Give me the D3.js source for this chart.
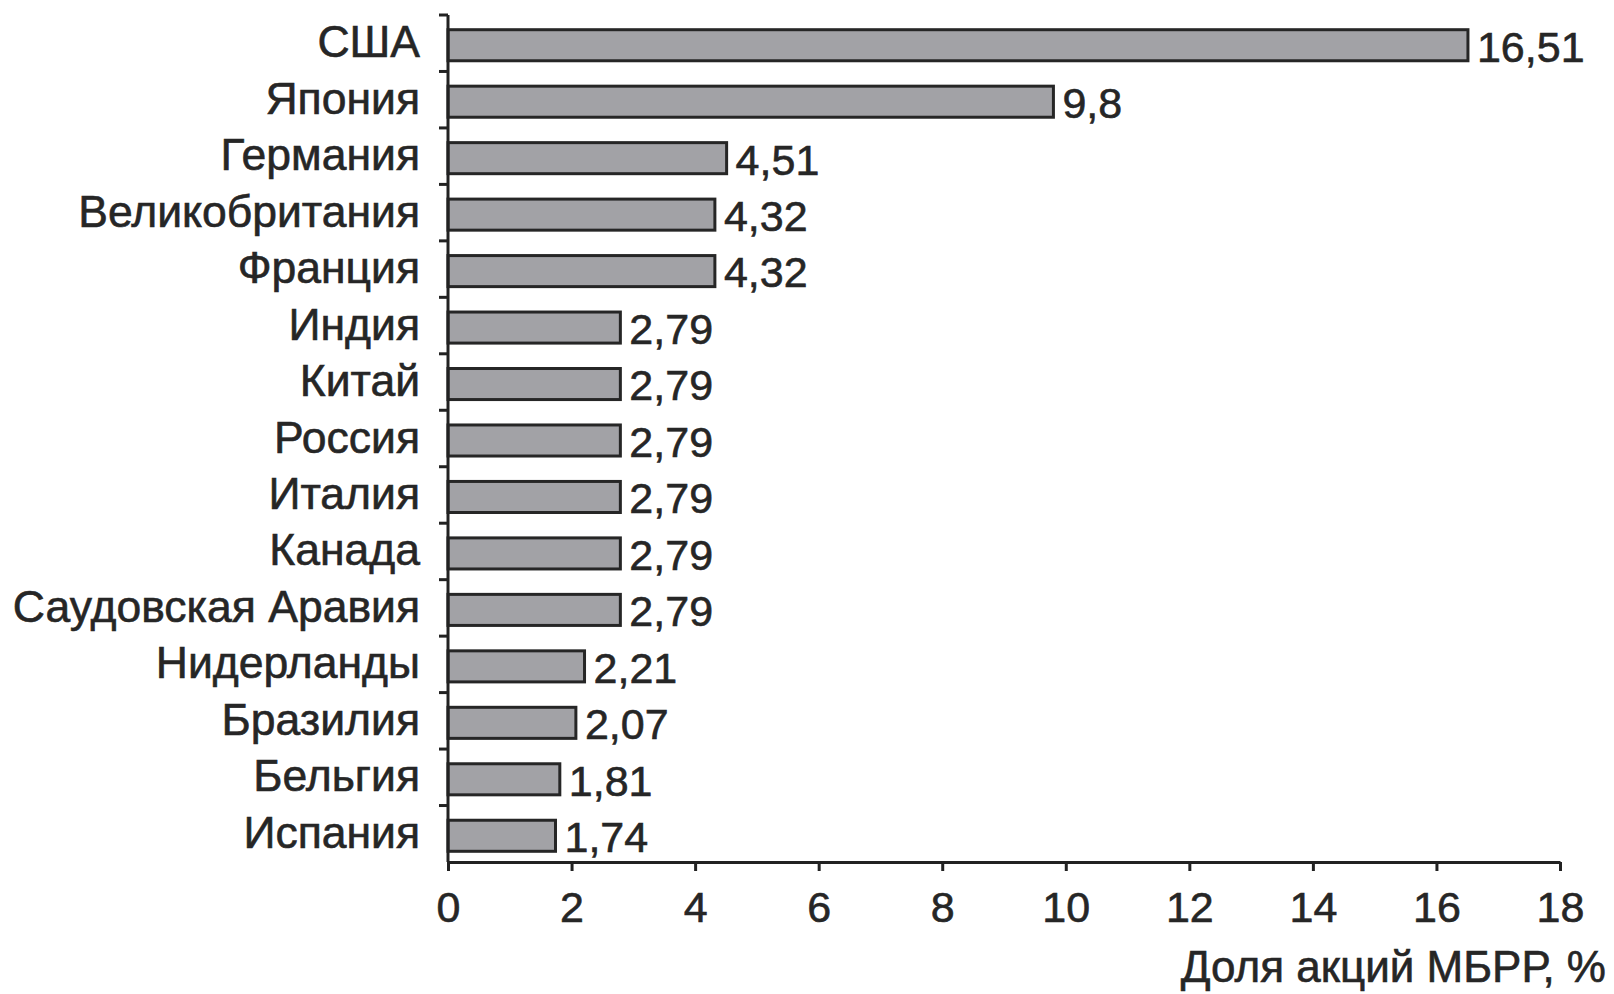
<!DOCTYPE html>
<html><head><meta charset="utf-8">
<script src="https://cdn.jsdelivr.net/npm/d3@7"></script>
<style>
html,body{margin:0;padding:0;background:#fff;}
text{font-family:"Liberation Sans",Arial,sans-serif;fill:#262626;stroke:#262626;stroke-width:0.6px;}
</style></head>
<body>
<svg id="chart" width="1614" height="994"></svg>
<script>
const countries = ["США","Япония","Германия","Великобритания","Франция","Индия","Китай","Россия","Италия","Канада","Саудовская Аравия","Нидерланды","Бразилия","Бельгия","Испания"];
const shares = [16.51,9.8,4.51,4.32,4.32,2.79,2.79,2.79,2.79,2.79,2.79,2.21,2.07,1.81,1.74];
const valueLabels = ["16,51","9,8","4,51","4,32","4,32","2,79","2,79","2,79","2,79","2,79","2,79","2,21","2,07","1,81","1,74"];
const xTicks = [0,2,4,6,8,10,12,14,16,18];
const axisTitle = "Доля акций МБРР, %";

const svg = d3.select("#chart");
const x = d3.scaleLinear().domain([0,18]).range([448,1560]);
const y = d3.scaleBand().domain(countries).range([15,862]).paddingInner(0.45).paddingOuter(0.225);

// bars
svg.append("g").selectAll("rect").data(countries).join("rect")
  .attr("x", x(0))
  .attr("y", d=>y(d)+2)
  .attr("width", (d,i)=>x(shares[i])-x(0))
  .attr("height", y.bandwidth())
  .attr("fill","#a2a2a6")
  .attr("stroke","#262626")
  .attr("stroke-width",3);

// value labels
svg.append("g").selectAll("text").data(countries).join("text")
  .attr("x",(d,i)=>x(shares[i])+9)
  .attr("y",d=>y(d)+2+y.bandwidth()/2)
  .attr("dy","0.38em")
  .attr("font-size",43)
  .text((d,i)=>valueLabels[i]);

// y axis
const yAxis = svg.append("g");
yAxis.append("line").attr("x1",x(0)).attr("x2",x(0)).attr("y1",15).attr("y2",862)
  .attr("stroke","#222").attr("stroke-width",3);
const bounds = countries.map(d=>y(d)-y.step()*y.paddingInner()/2);
yAxis.selectAll("line.tk").data(bounds).join("line").attr("class","tk")
  .attr("x1",x(0)-9).attr("x2",x(0)).attr("y1",d=>d).attr("y2",d=>d)
  .attr("stroke","#222").attr("stroke-width",3);
yAxis.selectAll("text").data(countries).join("text")
  .attr("x",420).attr("y",d=>y(d)+y.bandwidth()/2-2)
  .attr("dy","0.36em").attr("text-anchor","end")
  .attr("font-size",44.5)
  .text(d=>d);

// x axis
const xAxis = svg.append("g").attr("transform","translate(0,862)")
  .call(d3.axisBottom(x).tickValues(xTicks).tickSize(9).tickPadding(20).tickSizeOuter(0));
xAxis.select(".domain").attr("stroke","#222").attr("stroke-width",3);
xAxis.selectAll(".tick line").attr("stroke","#222").attr("stroke-width",3);
xAxis.selectAll(".tick text").attr("font-size",43).attr("fill","#262626").attr("font-family","Liberation Sans, Arial, sans-serif");

svg.append("text").attr("x",1606).attr("y",982).attr("text-anchor","end")
  .attr("font-size",44).text(axisTitle);
</script>
</body></html>
